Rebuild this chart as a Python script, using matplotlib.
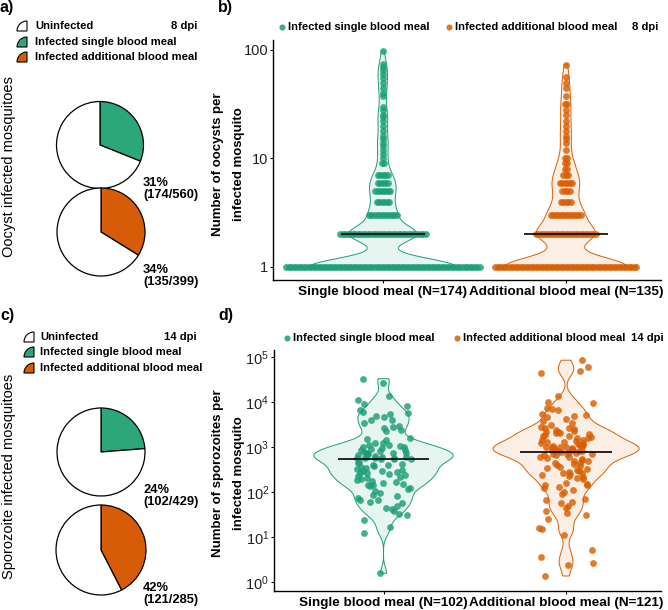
import numpy as np
import matplotlib
matplotlib.use('Agg')
import matplotlib.pyplot as plt
from matplotlib.patches import Wedge
from matplotlib.ticker import NullLocator

plt.rcParams['font.family'] = 'Liberation Sans'
plt.rcParams['mathtext.fontset'] = 'custom'
plt.rcParams['mathtext.rm'] = 'Liberation Sans'

# ---- data ----
oocyst_infected = [174, 135]
oocyst_total = [560, 399]
sporozoite_infected = [102, 121]
sporozoite_total = [429, 285]

# oocysts per infected mosquito, 8 dpi (value -> number of mosquitoes)
single_oocyst_values = [1, 2, 3, 4, 5, 6, 7, 9, 10, 11, 12, 13, 14, 15, 16, 18, 20, 22,
                        24, 25, 28, 30, 38, 40, 45, 50, 55, 60, 65, 70, 75, 97]
single_oocyst_counts = [78, 35, 12, 6, 7, 5, 5, 2, 1, 1, 1, 1, 1, 1, 1, 1, 1, 1,
                        1, 1, 1, 1, 1, 1, 1, 1, 1, 1, 1, 1, 1, 1]
additional_oocyst_values = [1, 2, 3, 4, 5, 6, 7, 8, 9, 10, 12, 14, 15, 16, 18, 20, 22,
                            25, 28, 32, 38, 45, 50, 56, 73]
additional_oocyst_counts = [57, 25, 13, 5, 4, 6, 3, 2, 2, 2, 1, 1, 1, 1, 1, 1, 1,
                            1, 1, 2, 1, 1, 1, 1, 1]

# sporozoites per infected mosquito, 14 dpi
single_sporozoites = [
    33000, 26500, 13600, 11300, 9100, 8300, 6800, 5900, 5700, 5500, 4800, 4650, 4050,
    3900, 3400, 3000, 2750, 2650, 2450, 2250,
    1600, 1500, 1450, 1250, 1220, 1130, 1100, 1030, 1010, 1000,
    950, 920, 870, 850, 800, 780, 750, 740, 720, 700, 660, 650, 620, 600, 590, 580,
    575, 570, 560, 555, 545, 530,
    455, 440, 420, 405, 390, 370, 360, 340, 320, 310, 300, 290, 280, 265,
    260, 245, 240, 225, 220, 210,
    190, 185, 172, 165, 157, 152, 145, 140, 133, 125, 115, 103,
    94, 85, 80, 73, 67, 65, 61, 56, 48, 44, 42, 37, 33, 31,
    24, 17, 12.5, 1.56]
additional_sporozoites = [
    85000, 61000, 50000, 45000,
    13300, 10000, 9700, 7400, 7100, 6800, 5500, 5200,
    4800, 4700, 4270, 3870, 3500, 3150, 2840, 2700, 2600, 2500, 2430, 2300, 2200,
    2190, 2090, 2000,
    1950, 1880, 1800, 1750, 1700, 1610, 1550, 1450, 1400, 1350, 1310, 1280, 1250,
    1200, 1150, 1120, 1100, 1080, 1050, 1020, 1000, 1000,
    980, 960, 930, 900, 870, 850, 830, 810, 800, 800,
    790, 760, 745, 710, 700, 690, 675, 650, 610, 600, 580, 550, 520, 500, 480, 450,
    445, 420, 405, 385, 360, 350, 330, 313, 295, 280, 268, 260, 250, 241, 230, 220, 207,
    190, 160, 152, 145, 140, 131, 120, 112, 101,
    90, 71, 67, 60, 57, 49, 44, 38, 34, 31, 25, 16, 15, 11, 5.2, 3.6, 2.6, 2.4, 1.36]

group_labels_oocyst = ['Single blood meal (N=174)', 'Additional blood meal (N=135)']
group_labels_spz = ['Single blood meal (N=102)', 'Additional blood meal (N=121)']
legend_labels = ['Uninfected', 'Infected single blood meal', 'Infected additional blood meal']

GREEN = '#1B9E77'
ORANGE = '#D95F02'
PIE_GREEN = '#2CA77A'
PIE_ORANGE = '#D75C08'
LEG_SIZE = 8.1

W, H = 668, 610
fig = plt.figure(figsize=(W / 100, H / 100), dpi=100)

# overlay in pixel coordinates for texts and legends
ov = fig.add_axes([0, 0, 1, 1])
ov.set_xlim(0, W)
ov.set_ylim(H, 0)
ov.axis('off')


def add_ax(l, t, r, b):
    return fig.add_axes([l / W, 1 - b / H, (r - l) / W, (b - t) / H])


def kde(values, adjust):
    z = np.log10(np.asarray(values, dtype=float))
    n = len(z)
    q75, q25 = np.percentile(z, [75, 25])
    bw = adjust * 0.9 * min(z.std(ddof=1), (q75 - q25) / 1.34) * n ** -0.2
    grid = np.linspace(z.min(), z.max(), 512)
    dens = np.exp(-0.5 * ((grid[:, None] - z[None, :]) / bw) ** 2).sum(1) / (n * bw * np.sqrt(2 * np.pi))
    return grid, dens


def swarm_x(vals, x0, step):
    xs = np.empty(len(vals))
    for v in np.unique(vals):
        idx = np.where(vals == v)[0]
        n = len(idx)
        xs[idx] = x0 + (np.arange(n) - (n - 1) / 2) * step
    return xs


def violin_panel(ax, groups, xs_fn, line_half, adjust):
    colors = [GREEN, ORANGE]
    dens = [kde(g, adjust) for g in groups]
    dmax = max(d.max() for _, d in dens)
    for i, g in enumerate(groups):
        x0 = i + 1
        grid, d = dens[i]
        half = d / dmax * 0.4
        y = 10 ** grid
        px = np.concatenate([x0 - half, (x0 + half)[::-1]])
        py = np.concatenate([y, y[::-1]])
        ax.fill(px, py, facecolor=colors[i], alpha=0.1, lw=0, zorder=1)
        ax.fill(px, py, facecolor='none', edgecolor=colors[i], lw=0.7, zorder=2)
        ax.scatter(xs_fn(g, x0), g, s=24, color=colors[i], alpha=0.82, lw=0, zorder=3)
        ax.hlines(np.median(g), x0 - line_half, x0 + line_half, color='black', lw=1.2, zorder=5)
    ax.set_yscale('log')
    ax.set_xlim(0.4, 2.52)
    ax.set_xticks([1, 2])
    ax.yaxis.set_minor_locator(NullLocator())
    for s in ['top', 'right']:
        ax.spines[s].set_visible(False)
    for s in ['left', 'bottom']:
        ax.spines[s].set_linewidth(1.0)
    ax.tick_params(axis='y', length=2.5, width=0.8, pad=1, labelsize=10.5, labelcolor='#222222')
    ax.tick_params(axis='x', length=2.5, width=0.8, pad=1.5, labelsize=9.7)


def pie_ax(cx, cy, r, inf, total, color):
    pad = r * 1.04
    ax = fig.add_axes([(cx - pad) / W, 1 - (cy + pad) / H, 2 * pad / W, 2 * pad / H])
    ax.pie([inf, total - inf], colors=[color, 'white'], startangle=90, counterclock=False,
           wedgeprops=dict(edgecolor='black', linewidth=0.9))
    ax.set_xlim(-1.04, 1.04)
    ax.set_ylim(-1.04, 1.04)
    ax.set_aspect('equal')
    ax.axis('off')
    pct = round(100 * inf / total)
    ov.text(143, cy + 32, f'{pct}%\n({inf}/{total})', ha='left', va='top',
            fontsize=9.3, fontweight='bold', linespacing=1.05)


def pie_legend(kx, tx, ys, dpi_text):
    for y, lab, col in zip(ys, legend_labels, ['white', PIE_GREEN, PIE_ORANGE]):
        ov.add_patch(Wedge((kx + 10, y + 5), 10, 180, 270, facecolor=col,
                           edgecolor='black', lw=0.8))
        ov.text(tx, y, lab, ha='left', va='center', fontsize=LEG_SIZE, fontweight='bold')
    ov.text(197, ys[0], dpi_text, ha='right', va='center', fontsize=LEG_SIZE, fontweight='bold')


def dot_legend(y, xg, xo, xdpi, dpi_text):
    ov.plot([xg], [y], 'o', ms=4.4, color=GREEN, alpha=0.85, mew=0)
    ov.text(xg + 6, y, legend_labels[1], ha='left', va='center', fontsize=LEG_SIZE, fontweight='bold')
    ov.plot([xo], [y], 'o', ms=4.4, color=ORANGE, alpha=0.85, mew=0)
    ov.text(xo + 6, y, legend_labels[2], ha='left', va='center', fontsize=LEG_SIZE, fontweight='bold')
    ov.text(xdpi, y, dpi_text, ha='right', va='center', fontsize=LEG_SIZE, fontweight='bold')


# ---- panel a ----
ov.text(0, 0, 'a)', ha='left', va='top', fontsize=11.5, fontweight='bold')
pie_legend(17, 35, [26, 42, 57], '8 dpi')
ov.text(9, 167, 'Oocyst infected mosquitoes', rotation=90, ha='center', va='center', fontsize=10.5)
pie_ax(100, 145, 43.5, oocyst_infected[0], oocyst_total[0], PIE_GREEN)
pie_ax(101, 232, 44, oocyst_infected[1], oocyst_total[1], PIE_ORANGE)

# ---- panel b ----
ov.text(218, 0, 'b)', ha='left', va='top', fontsize=11.5, fontweight='bold')
dot_legend(27, 282, 449, 658, '8 dpi')
ax_b = add_ax(273, 40, 661, 280)
groups_b = [np.repeat(single_oocyst_values, single_oocyst_counts),
            np.repeat(additional_oocyst_values, additional_oocyst_counts)]
violin_panel(ax_b, groups_b, lambda g, x0: swarm_x(g, x0, 2.5 / 182), 0.23, 0.55)
ax_b.set_ylim(10 ** -0.12, 10 ** 2.092)
ax_b.set_yticks([1, 10, 100])
ax_b.set_yticklabels(['1', '10', '100'])
ax_b.set_xticklabels(group_labels_oocyst, fontweight='bold')
ov.text(218, 164, 'Number of oocysts per', rotation=90, ha='center', va='center',
        fontsize=9.5, fontweight='bold')
ov.text(239, 164, 'infected mosquito', rotation=90, ha='center', va='center',
        fontsize=9.5, fontweight='bold')

# ---- panel c ----
ov.text(0, 308, 'c)', ha='left', va='top', fontsize=11.5, fontweight='bold')
pie_legend(24, 40, [337, 352, 368], '14 dpi')
ov.text(9, 476, 'Sporozoite infected mosquitoes', rotation=90, ha='center', va='center', fontsize=10.5)
pie_ax(101, 452, 44, sporozoite_infected[0], sporozoite_total[0], PIE_GREEN)
pie_ax(101, 550, 45, sporozoite_infected[1], sporozoite_total[1], PIE_ORANGE)

# ---- panel d ----
ov.text(218, 308, 'd)', ha='left', va='top', fontsize=11.5, fontweight='bold')
dot_legend(338, 287, 457, 664, '14 dpi')
ax_d = add_ax(274, 350, 661, 591)
rng = np.random.default_rng(11)
groups_d = [np.array(single_sporozoites, dtype=float), np.array(additional_sporozoites, dtype=float)]
violin_panel(ax_d, groups_d, lambda g, x0: x0 + rng.uniform(-0.15, 0.15, len(g)), 0.25, 0.6)
ax_d.set_ylim(10 ** -0.2, 10 ** 5.156)
ax_d.set_yticks(10.0 ** np.arange(6))
ax_d.set_yticklabels([r'$\mathdefault{10^{%d}}$' % k for k in range(6)])
ax_d.set_xticklabels(group_labels_spz, fontweight='bold')
ov.text(218, 473, 'Number of sporozoites per', rotation=90, ha='center', va='center',
        fontsize=9.5, fontweight='bold')
ov.text(239, 473, 'infected mosquito', rotation=90, ha='center', va='center',
        fontsize=9.5, fontweight='bold')

fig.savefig('out.png', dpi=100)
